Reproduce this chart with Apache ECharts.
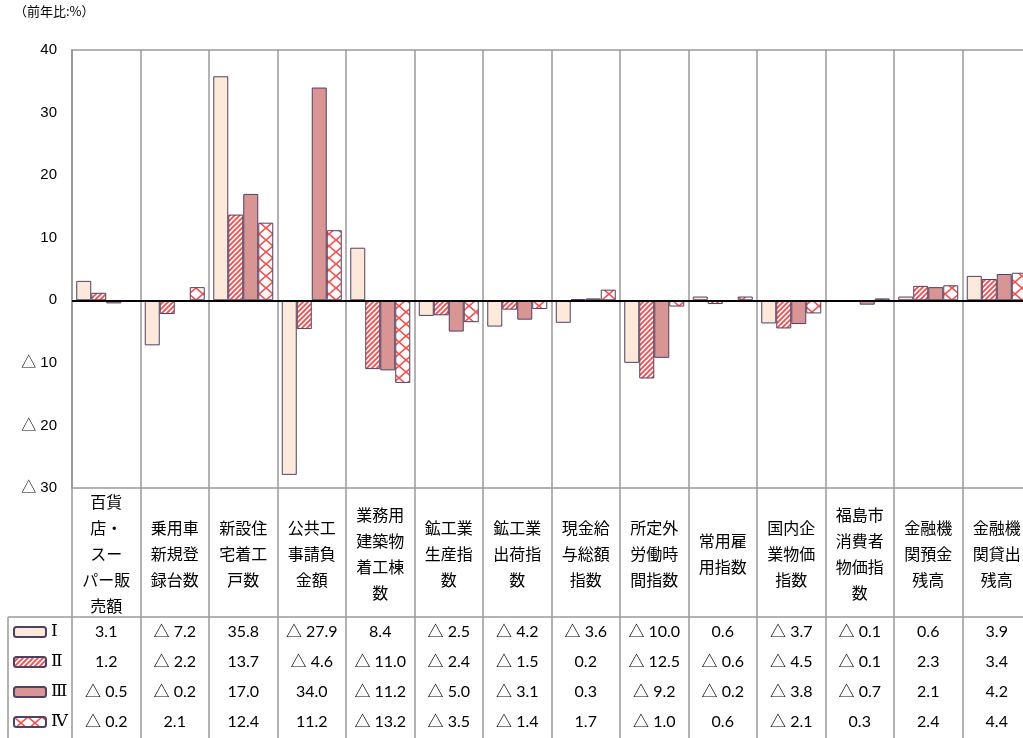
<!DOCTYPE html>
<html>
<head>
<meta charset="utf-8">
<script src="https://cdn.jsdelivr.net/npm/echarts@6/dist/echarts.min.js"></script>
<style>html,body{margin:0;padding:0;background:#fff;}#c{width:1023px;height:738px;}</style>
</head>
<body>
<div id="c"></div>
<script>
const categories = [
  '百貨\n店・\nスー\nパー販\n売額',
  '乗用車\n新規登\n録台数',
  '新設住\n宅着工\n戸数',
  '公共工\n事請負\n金額',
  '業務用\n建築物\n着工棟\n数',
  '鉱工業\n生産指\n数',
  '鉱工業\n出荷指\n数',
  '現金給\n与総額\n指数',
  '所定外\n労働時\n間指数',
  '常用雇\n用指数',
  '国内企\n業物価\n指数',
  '福島市\n消費者\n物価指\n数',
  '金融機\n関預金\n残高',
  '金融機\n関貸出\n残高'
];
const seriesNames = ['Ⅰ', 'Ⅱ', 'Ⅲ', 'Ⅳ'];
const valuesI   = [3.1, -7.2, 35.8, -27.9, 8.4, -2.5, -4.2, -3.6, -10.0, 0.6, -3.7, -0.1, 0.6, 3.9];
const valuesII  = [1.2, -2.2, 13.7, -4.6, -11.0, -2.4, -1.5, 0.2, -12.5, -0.6, -4.5, -0.1, 2.3, 3.4];
const valuesIII = [-0.5, -0.2, 17.0, 34.0, -11.2, -5.0, -3.1, 0.3, -9.2, -0.2, -3.8, -0.7, 2.1, 4.2];
const valuesIV  = [-0.2, 2.1, 12.4, 11.2, -13.2, -3.5, -1.4, 1.7, -1.0, 0.6, -2.1, 0.3, 2.4, 4.4];
const yMin = -30, yMax = 40, yStep = 10;

const allValues = [valuesI, valuesII, valuesIII, valuesIV];

function fmtCell(v) { return v < 0 ? '△ ' + Math.abs(v).toFixed(1) : v.toFixed(1); }
function fmtTick(v) { return v < 0 ? '△ ' + Math.abs(v) : String(v); }

function stripeTile() {
  const s = 5;
  const c = document.createElement('canvas'); c.width = s; c.height = s;
  const g = c.getContext('2d');
  g.fillStyle = '#ffffff'; g.fillRect(0, 0, s, s);
  g.strokeStyle = '#ff4a4a'; g.lineWidth = 1.8;
  g.beginPath();
  g.moveTo(-1, s + 1); g.lineTo(s + 1, -1);
  g.moveTo(-1, 1); g.lineTo(1, -1);
  g.moveTo(s - 1, s + 1); g.lineTo(s + 1, s - 1);
  g.stroke();
  return c;
}
function crossTile() {
  const w = 14, h = 12;
  const c = document.createElement('canvas'); c.width = w; c.height = h;
  const g = c.getContext('2d');
  g.fillStyle = '#ffffff'; g.fillRect(0, 0, w, h);
  g.strokeStyle = '#ff4a4a'; g.lineWidth = 1.6;
  g.beginPath();
  g.moveTo(0, 0); g.lineTo(w, h);
  g.moveTo(w, 0); g.lineTo(0, h);
  g.stroke();
  return c;
}

const border = '#4f4162';
const fills = [
  '#fde9d9',
  { image: stripeTile(), repeat: 'repeat' },
  '#d99594',
  { image: crossTile(), repeat: 'repeat' }
];

const lineGray = '#9a9a9a';
const cjk = "'Noto Sans CJK JP', sans-serif";
const numFont = "Lato, 'Noto Sans CJK JP', sans-serif";

const gridLeft = 72, gridTop = 50, gridWidth = 959, gridHeight = 438;
const headerH = 129, rowH = 30;

const xAxes = [{
  type: 'category', gridIndex: 0, data: categories, position: 'bottom',
  axisLine: { show: false, onZero: false },
  axisTick: { show: true, length: 252, lineStyle: { color: lineGray, width: 1.5 } },
  splitLine: { show: true, lineStyle: { color: lineGray, width: 1.5 } },
  axisLabel: {
    interval: 0, margin: 66, verticalAlign: 'middle', lineHeight: 26,
    fontSize: 16, color: '#000', fontFamily: cjk
  }
}];
allValues.forEach(function (vals, i) {
  xAxes.push({
    type: 'category', gridIndex: 0, data: categories, position: 'bottom',
    offset: headerH + rowH * i,
    axisLine: { show: false, onZero: false },
    axisTick: { show: false },
    splitLine: { show: false },
    axisLabel: {
      interval: 0, margin: 15, verticalAlign: 'middle',
      fontSize: 16, color: '#000', fontFamily: numFont,
      formatter: function (value, idx) { return fmtCell(vals[idx]); }
    }
  });
});

const series = allValues.map(function (vals, i) {
  const s = {
    name: seriesNames[i], type: 'bar', xAxisIndex: 0, yAxisIndex: 0,
    data: vals, barWidth: 15, barGap: '0%',
    itemStyle: { color: fills[i], borderColor: border, borderWidth: 1 }
  };
  if (i === 3) {
    s.markLine = {
      silent: true, symbol: ['none', 'none'],
      label: { show: false },
      lineStyle: { color: '#000', width: 2, type: 'solid' },
      data: [{ yAxis: 0 }]
    };
  }
  return s;
});

const chart = echarts.init(document.getElementById('c'), null, { renderer: 'canvas' });
chart.setOption({
  animation: false,
  backgroundColor: '#fff',
  title: {
    text: '（前年比:%）', left: 14, top: 5, padding: 0,
    textStyle: { fontSize: 13, fontWeight: 'normal', color: '#000', fontFamily: cjk }
  },
  legend: {
    orient: 'vertical', left: 13, top: 622, padding: 0,
    itemWidth: 32, itemHeight: 10, itemGap: 10,
    data: seriesNames,
    textStyle: { fontSize: 17, lineHeight: 20, color: '#000', fontFamily: "'DejaVu Serif', serif" },
    selectedMode: false
  },
  grid: {
    left: gridLeft, top: gridTop, width: gridWidth, height: gridHeight,
    outerBoundsMode: 'none', containLabel: false,
    show: true, borderColor: lineGray, borderWidth: 1.5, backgroundColor: 'transparent'
  },
  xAxis: xAxes,
  yAxis: [{
    type: 'value', gridIndex: 0, min: yMin, max: yMax, interval: yStep,
    axisLine: { show: true, lineStyle: { color: lineGray, width: 1.5 } },
    axisTick: { show: false },
    splitLine: { show: false },
    axisLabel: { fontSize: 15, margin: 15, color: '#000', fontFamily: "'Liberation Sans', 'Noto Sans CJK JP', sans-serif", formatter: fmtTick }
  }],
  graphic: [
    { type: 'line', silent: true, shape: { x1: 8, y1: gridTop + gridHeight + headerH, x2: 1023, y2: gridTop + gridHeight + headerH }, style: { stroke: lineGray, lineWidth: 1.5 } },
    { type: 'line', silent: true, shape: { x1: 8, y1: gridTop + gridHeight + headerH, x2: 8, y2: 738 }, style: { stroke: lineGray, lineWidth: 1.5 } }
  ],
  series: series
});
</script>
</body>
</html>
